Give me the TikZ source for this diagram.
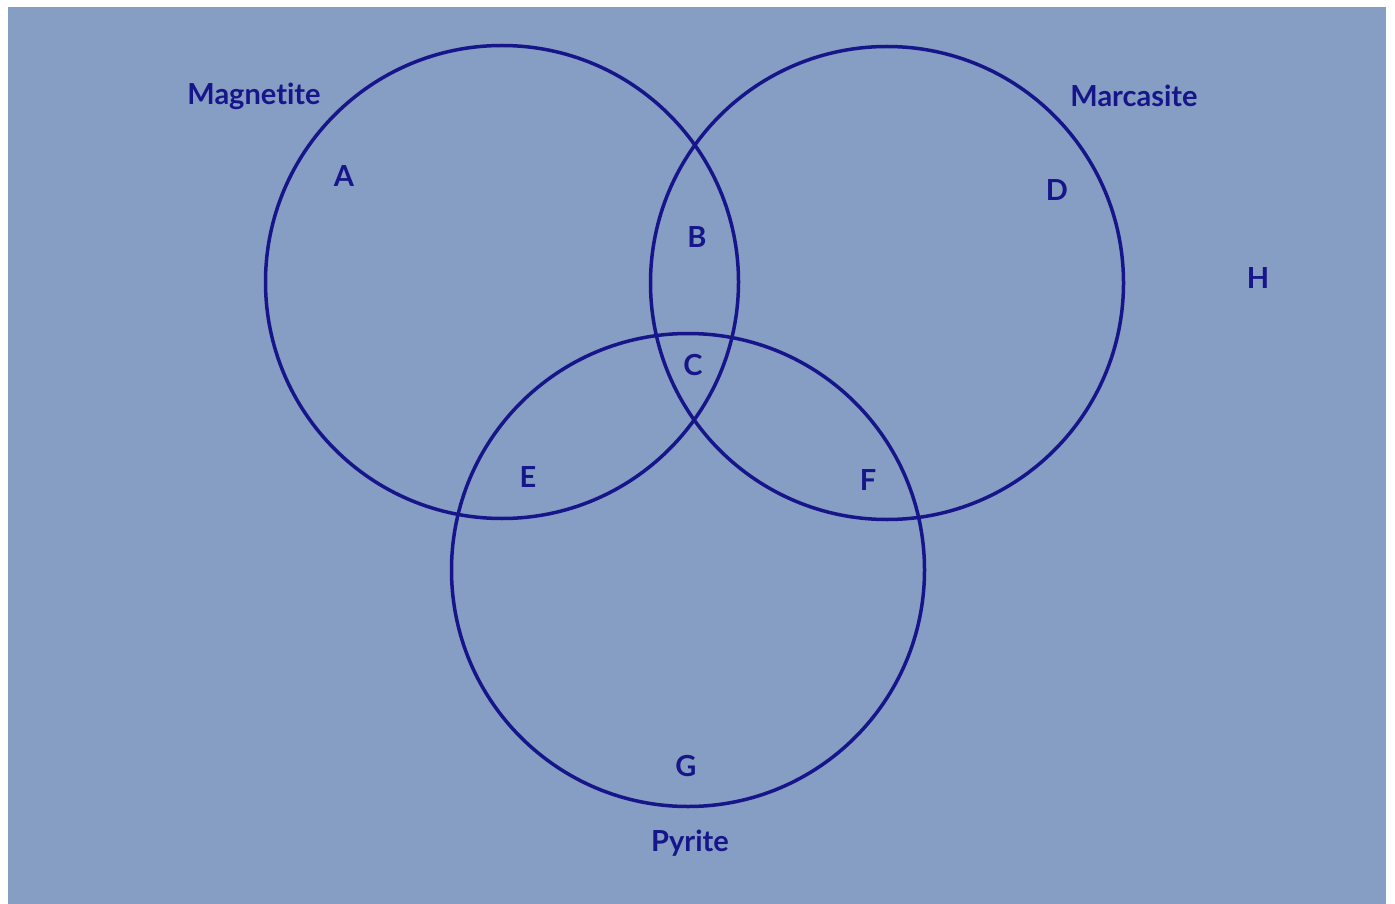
\documentclass[tikz,border=0pt]{standalone}
\usepackage{fontspec}
\setmainfont[Ligatures={CommonOff}]{Lato}
\definecolor{bgblue}{RGB}{134,157,196}
\definecolor{ink}{RGB}{22,22,138}
\begin{document}
\begin{tikzpicture}[x=1pt,y=-1pt,
  ring/.style={draw=ink,line width=3.5pt},
  lbl/.style={text=ink,font=\fontsize{29}{32}\selectfont\bfseries,inner sep=0pt}]
\useasboundingbox (0,0) rectangle (1395,904);
\fill[white] (0,0) rectangle (1395,904);
\fill[bgblue] (8,7) rectangle (1386,904);
\node[ring,circle,minimum size=473pt,inner sep=0pt] (mag) at (502,282) {};
\node[ring,circle,minimum size=473pt,inner sep=0pt] (mar) at (887,283) {};
\node[ring,circle,minimum size=473pt,inner sep=0pt] (pyr) at (688,570) {};
\node[lbl] (tmag) at (254,96) {Magnetite};
\node[lbl] (tmar) at (1134,96) {Marcasite};
\node[lbl] (tpyr) at (690,843) {Pyrite};
\node[lbl] (A) at (344,176) {A};
\node[lbl] (B) at (697,237) {B};
\node[lbl] (C) at (693,365) {C};
\node[lbl] (D) at (1057,190) {D};
\node[lbl] (E) at (528,477) {E};
\node[lbl] (F) at (868,480) {F};
\node[lbl] (G) at (686,766) {G};
\node[lbl] (H) at (1258,278) {H};
\end{tikzpicture}
\end{document}
